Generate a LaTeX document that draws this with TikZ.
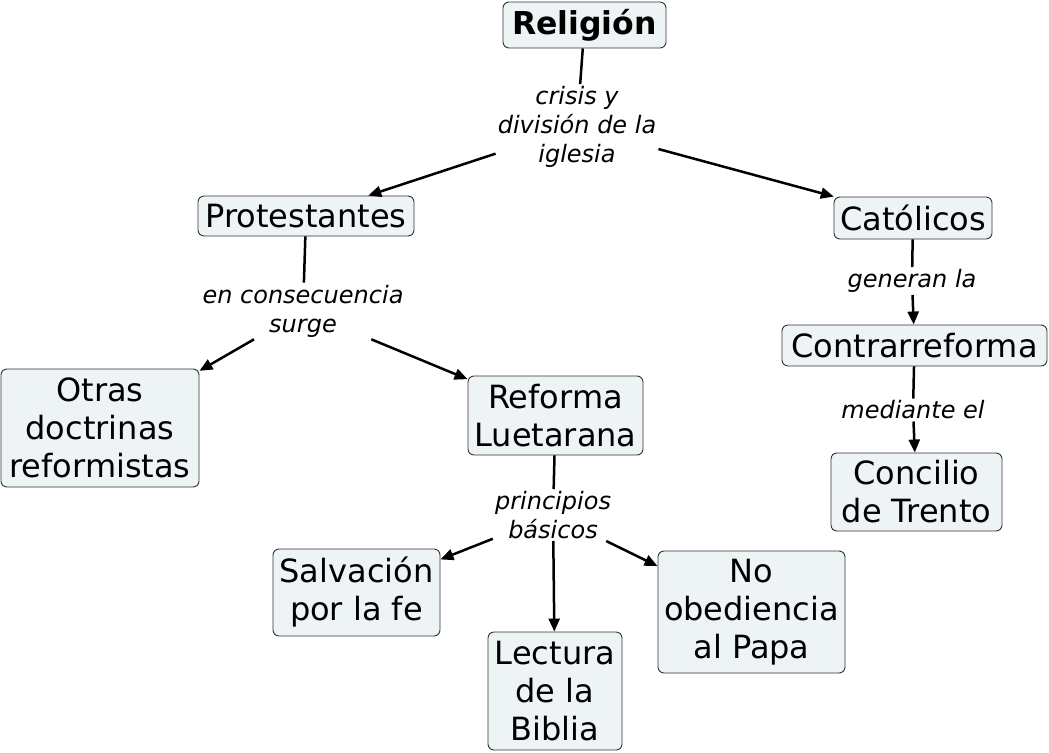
\documentclass[tikz,border=0pt]{standalone}
\usepackage{fontspec}
\setmainfont{DejaVu Sans}
\usetikzlibrary{arrows.meta}
\definecolor{boxfill}{HTML}{EEF3F5}
\definecolor{boxline}{HTML}{333333}
\tikzset{
  concept/.style={draw=boxline, line width=0.9pt, fill=boxfill, rounded corners=6pt,
    align=center, inner sep=0pt, font=\fontsize{32}{38}\selectfont},
  linkph/.style={align=center, inner sep=2pt, font=\fontsize{24}{29}\selectfont\itshape},
  conn/.style={line width=2.5pt, black},
  arr/.style={conn, -{Triangle[length=13pt,width=11pt]}}
}
\begin{document}
\begin{tikzpicture}[x=1pt,y=-1pt]
\useasboundingbox (0,0) rectangle (1049,752);
% concepts
\node[concept, minimum width=163pt, minimum height=46pt, font=\fontsize{31.5}{38}\selectfont\bfseries] (rel) at (584.5,25) {Religión};
\node[concept, minimum width=216pt, minimum height=40pt] (prot) at (306,216) {Protestantes};
\node[concept, minimum width=158pt, minimum height=42pt] (cat) at (913,218) {Católicos};
\node[concept, minimum width=265pt, minimum height=41pt] (contra) at (914.5,345.5) {Contrarreforma};
\node[concept, minimum width=171pt, minimum height=78pt] (trento) at (916.5,492) {Concilio\\de Trento};
\node[concept, minimum width=198pt, minimum height=118pt] (otras) at (100,428) {Otras\\doctrinas\\reformistas};
\node[concept, minimum width=175pt, minimum height=79pt] (reforma) at (555.5,415.5) {Reforma\\Luetarana};
\node[concept, minimum width=167pt, minimum height=87pt] (salv) at (356.5,592.5) {Salvación\\por la fe};
\node[concept, minimum width=134pt, minimum height=118pt] (lect) at (555,691) {Lectura\\de la\\Biblia};
\node[concept, minimum width=187pt, minimum height=122pt] (noob) at (751.5,612) {No\\obediencia\\al Papa};
% linking phrases
\node[linkph] (l1) at (577,127) {crisis y\\división de la\\iglesia};
\node[linkph] (l2) at (303,311) {en consecuencia\\surge};
\node[linkph] (l3) at (553,515) {principios\\básicos};
\node[linkph] (l4) at (912,281) {generan la};
\node[linkph] (l5) at (913,410) {mediante el};
% connectors
\draw[conn] (rel) -- (l1);
\draw[arr] (l1) -- (prot);
\draw[arr] (l1) -- (cat);
\draw[conn] (prot) -- (l2);
\draw[arr] (l2) -- (otras);
\draw[arr] (l2) -- (reforma);
\draw[conn] (reforma) -- (l3);
\draw[arr] (l3) -- (salv);
\draw[arr] (l3) -- (lect);
\draw[arr] (l3) -- (noob);
\draw[conn] (cat) -- (l4);
\draw[arr] (l4) -- (contra);
\draw[conn] (contra) -- (l5);
\draw[arr] (l5) -- (trento);
\end{tikzpicture}
\end{document}
